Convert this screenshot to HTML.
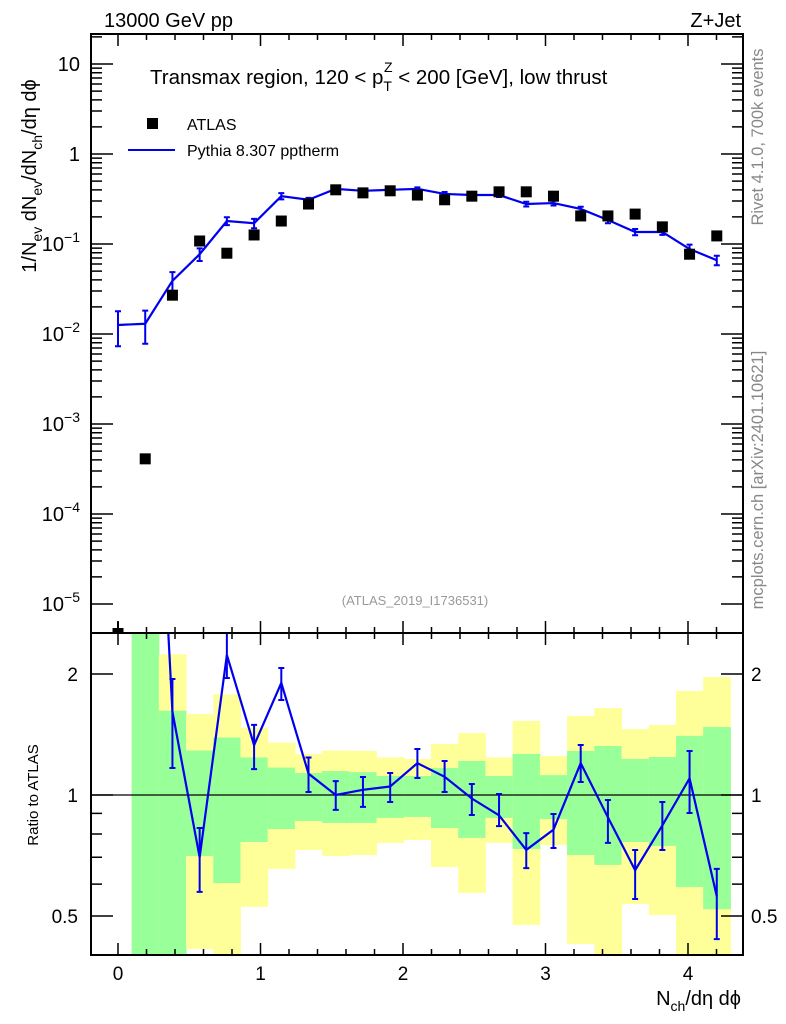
<!DOCTYPE html>
<html><head><meta charset="utf-8">
<style>
html,body{margin:0;background:#fff;overflow:hidden;width:786px;height:1024px;}
svg{display:block;font-family:"Liberation Sans",sans-serif;}
</style></head>
<body>
<svg id="chart" width="786" height="1024" viewBox="0 0 786 1024" xmlns="http://www.w3.org/2000/svg">
<defs>
<clipPath id="clipMain"><rect x="91" y="34" width="652" height="599"/></clipPath>
<clipPath id="clipRatio"><rect x="91" y="633" width="652" height="322"/></clipPath>
</defs>
<g id="bands" clip-path="url(#clipRatio)"></g>
<g id="marks"></g>
<g id="axes"></g>
<text x="104" y="27" font-size="20">13000 GeV pp</text>
<text x="741" y="27" font-size="20" text-anchor="end">Z+Jet</text>
<text x="150" y="84" font-size="20.5">Transmax region, 120 &lt; p<tspan font-size="14" dy="7">T</tspan><tspan font-size="14" dx="-8" dy="-19">Z</tspan><tspan dy="12"> &lt; 200 [GeV], low thrust</tspan></text>
<rect x="147" y="118" width="11" height="11" fill="#000"/>
<text x="187" y="130" font-size="16">ATLAS</text>
<line x1="128" y1="150" x2="175" y2="150" stroke="#0000ee" stroke-width="2"/>
<text x="187" y="156" font-size="16">Pythia 8.307 pptherm</text>
<text x="415" y="605" font-size="13" fill="#999" text-anchor="middle">(ATLAS_2019_I1736531)</text>
<text transform="translate(763,137) rotate(-90)" font-size="16.5" fill="#888" text-anchor="middle">Rivet 4.1.0,  700k events</text>
<text transform="translate(763,480) rotate(-90)" font-size="16.5" fill="#888" text-anchor="middle">mcplots.cern.ch [arXiv:2401.10621]</text>
<text transform="translate(36,176) rotate(-90)" font-size="20" text-anchor="middle">1/N<tspan font-size="14" dy="6">ev</tspan><tspan dy="-6"> dN</tspan><tspan font-size="14" dy="6">ev</tspan><tspan dy="-6">/dN</tspan><tspan font-size="14" dy="6">ch</tspan><tspan dy="-6">/dη dϕ</tspan></text>
<text transform="translate(38,795) rotate(-90)" font-size="15" text-anchor="middle">Ratio to ATLAS</text>
<text x="741" y="1005" font-size="20" text-anchor="end">N<tspan font-size="14" dy="6">ch</tspan><tspan dy="-6">/dη dϕ</tspan></text>
</svg>
<script>
const xVals=[0,0.191,0.382,0.573,0.764,0.955,1.146,1.337,1.528,1.719,1.91,2.101,2.292,2.483,2.674,2.865,3.056,3.247,3.438,3.629,3.82,4.011,4.202];
const atlasVals=[4.7e-6,4.1e-4,0.027,0.108,0.079,0.126,0.18,0.278,0.40,0.37,0.39,0.35,0.31,0.34,0.38,0.38,0.34,0.205,0.205,0.215,0.155,0.077,0.123];
const mcVals=[0.0126,0.013,0.039,0.077,0.18,0.17,0.34,0.31,0.41,0.39,0.40,0.41,0.36,0.35,0.35,0.278,0.285,0.245,0.185,0.136,0.136,0.088,0.066];
const mcRelErr=[0.42,0.4,0.25,0.16,0.1,0.12,0.08,0.05,0.04,0.04,0.04,0.04,0.05,0.04,0.05,0.06,0.06,0.06,0.08,0.08,0.07,0.12,0.12];
const ratioVals=[null,null,1.61,0.70,2.23,1.33,1.90,1.13,1.0,1.03,1.05,1.20,1.11,0.98,0.89,0.73,0.82,1.20,0.88,0.65,0.84,1.10,0.56];
const ratioHi=[null,null,1.944,0.828,2.7,1.494,2.07,1.24,1.083,1.109,1.134,1.301,1.215,1.065,1.006,0.804,0.897,1.332,0.972,0.730,0.961,1.287,0.655];
const ratioLo=[null,null,1.167,0.574,1.954,1.16,1.723,1.017,0.918,0.934,0.961,1.102,1.017,0.892,0.837,0.658,0.738,1.077,0.76,0.551,0.73,0.902,0.438];
const yelHi=[null,10,2.24,1.59,1.78,1.47,1.35,1.265,1.29,1.287,1.24,1.229,1.34,1.426,1.24,1.528,1.25,1.572,1.645,1.459,1.494,1.815,1.966];
const grnHi=[null,10,1.62,1.29,1.39,1.24,1.17,1.134,1.147,1.14,1.115,1.115,1.167,1.215,1.115,1.265,1.12,1.287,1.324,1.229,1.243,1.403,1.476];
const grnLo=[null,0.1,0.1,0.705,0.604,0.764,0.823,0.862,0.852,0.852,0.877,0.882,0.828,0.782,0.877,0.734,0.871,0.709,0.67,0.764,0.747,0.59,0.52];
const yelLo=[null,0.1,0.1,0.414,0.1,0.527,0.655,0.730,0.705,0.709,0.76,0.773,0.662,0.571,0.76,0.475,0.751,0.426,0.3,0.536,0.503,0.3,0.3];
const xTicks=[0,1,2,3,4];
const yDecades=[-5,-4,-3,-2,-1,0,1];
const ratioTicks=[0.5,1,2];

const NS="http://www.w3.org/2000/svg";
const X0=91,X1=743,YT=34,YM=633,YB=955;
const sx=v=>118+v*142.5;
const sy=v=>64+(1-Math.log10(v))*90;
const sr=v=>795-Math.log10(v)*402;
const binW=0.191;
function el(tag,attrs,parent){const e=document.createElementNS(NS,tag);for(const k in attrs)e.setAttribute(k,attrs[k]);parent.appendChild(e);return e;}
const bands=document.getElementById('bands'),marks=document.getElementById('marks'),axes=document.getElementById('axes');

for(let i=0;i<xVals.length;i++){
  if(yelHi[i]==null)continue;
  const xa=sx(xVals[i]-binW/2),xb=sx(xVals[i]+binW/2);
  const y1=el('rect',{x:xa,y:sr(yelHi[i]),width:xb-xa+0.5,height:sr(yelLo[i])-sr(yelHi[i]),fill:'#ffff99'},bands);
  
  
  const g1=el('rect',{x:xa,y:sr(grnHi[i]),width:xb-xa+0.5,height:sr(grnLo[i])-sr(grnHi[i]),fill:'#99ff99'},bands);
  
  
}
const one=el('line',{x1:X0,x2:X1,y1:sr(1),y2:sr(1),stroke:'#000','stroke-width':1.2},bands);



const gm=el('g',{'clip-path':'url(#clipMain)'},marks);
let d='';
mcVals.forEach((v,i)=>{d+=(i?'L':'M')+sx(xVals[i])+','+sy(v);});
const ml=el('path',{d:d,fill:'none',stroke:'#0000ee','stroke-width':2.2},gm);


mcVals.forEach((v,i)=>{
  const x=sx(xVals[i]),ya=sy(v*(1+mcRelErr[i])),yb=sy(v*(1-mcRelErr[i]));
  const eb=el('path',{d:`M${x},${ya}V${yb}M${x-3},${ya}H${x+3}M${x-3},${yb}H${x+3}`,stroke:'#0000ee','stroke-width':2,fill:'none'},gm);
  
  
});
atlasVals.forEach((v,i)=>{
  const x=sx(xVals[i]),y=sy(v);
  const r=el('rect',{x:x-5.5,y:y-5.5,width:11,height:11,fill:'#000'},gm);
  
  
});
const e0=el('path',{d:`M${sx(xVals[0])},${sy(atlasVals[0])-12}V${sy(atlasVals[0])}M${sx(xVals[0])-13},${sy(atlasVals[0])}H${sx(xVals[0])+13}`,stroke:'#000','stroke-width':2},gm);



const gr=el('g',{'clip-path':'url(#clipRatio)'},marks);
let dr='';let started=false;
ratioVals.forEach((v,i)=>{
  let val=v;
  if(v==null){ if(i===1) val=mcVals[i]/atlasVals[i]; else return; }
  dr+=(started?'L':'M')+sx(xVals[i])+','+sr(val);started=true;
});
const rl=el('path',{d:dr,fill:'none',stroke:'#0000ee','stroke-width':2.2},gr);


ratioVals.forEach((v,i)=>{
  if(v==null)return;
  const x=sx(xVals[i]),ya=sr(ratioHi[i]),yb=sr(ratioLo[i]);
  const eb=el('path',{d:`M${x},${ya}V${yb}M${x-3},${ya}H${x+3}M${x-3},${yb}H${x+3}`,stroke:'#0000ee','stroke-width':2,fill:'none'},gr);
  
  
});

[[YT,YM,'main-frame'],[YM,YB,'ratio-frame']].forEach(f=>{
  const r=el('rect',{x:X0,y:f[0],width:X1-X0,height:f[1]-f[0],fill:'none',stroke:'#000','stroke-width':2},axes);
  
  
});
let tp='';
for(let k=-1;k<=22;k++){
  const v=k*0.2,x=sx(v);if(x<X0||x>X1)continue;
  const L=(k%5===0)?12:6;
  tp+=`M${x},${YT}v${L}M${x},${YM}v${-L}M${x},${YM}v${L}M${x},${YB}v${-L}`;
}
yDecades.forEach(p=>{
  for(let m=1;m<10;m++){
    const y=sy(m*Math.pow(10,p));if(y<YT||y>YM)continue;
    const L=m===1?22:11;
    tp+=`M${X0},${y}h${L}M${X1},${y}h${-L}`;
  }
});
[0.4,0.5,0.6,0.7,0.8,0.9,1,2].forEach(v=>{
  const y=sr(v),L=(v===0.5||v===1||v===2)?22:11;
  tp+=`M${X0},${y}h${L}M${X1},${y}h${-L}`;
});
const tk=el('path',{d:tp,stroke:'#000','stroke-width':1.5,fill:'none'},axes);


xTicks.forEach(v=>{
  const t=el('text',{x:sx(v),y:980,'font-size':19,'text-anchor':'middle'},axes);
  t.textContent=v;
  
  
});
yDecades.forEach(p=>{
  const y=sy(Math.pow(10,p));
  const t=el('text',{x:80,y:y+7,'font-size':20,'text-anchor':'end'},axes);
  if(p===0)t.textContent='1';
  else if(p===1)t.textContent='10';
  else{t.textContent='10';const s=el('tspan',{'font-size':14,dy:-9},t);s.textContent='−'+(-p);}
  
  
});
ratioTicks.forEach(v=>{
  const y=sr(v)+7;
  const t=el('text',{x:78,y:y,'font-size':19,'text-anchor':'end'},axes);
  t.textContent=v;
  
  
  const t2=el('text',{x:751,y:y,'font-size':19},axes);
  t2.textContent=v;
  
  
});
</script>
</body></html>
